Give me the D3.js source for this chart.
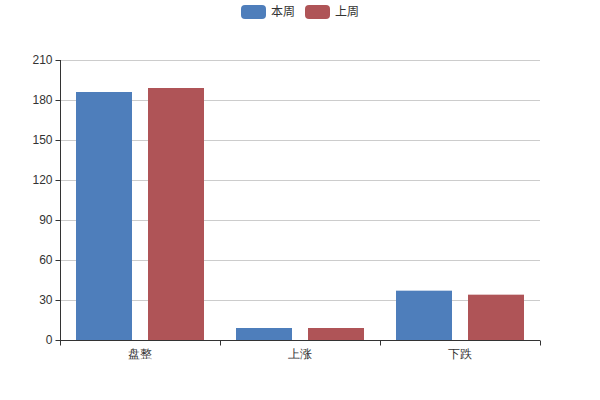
<!DOCTYPE html>
<html><head><meta charset="utf-8">
<script src="https://cdn.jsdelivr.net/npm/d3@7"></script>
<style>body{margin:0;background:#fff}svg{display:block;font-family:"Noto Sans CJK SC","Noto Sans",sans-serif}</style>
</head><body><svg id="c" width="600" height="400"></svg>
<script>
const categories = ["盘整", "上涨", "下跌"];
const seriesNames = ["本周", "上周"];
const thisWeek = [186, 9, 37];
const lastWeek = [189, 9, 34];
const yTicks = [0, 30, 60, 90, 120, 150, 180, 210];
const colors = ["#4e7ebb", "#af5457"];

const svg = d3.select("#c");
const m = {l: 60, r: 60, t: 60, b: 60};
const W = 600, H = 400;
const x = d3.scaleBand().domain(categories).range([m.l, W - m.r]).padding(0);
const x1 = d3.scaleBand().domain(seriesNames).range([0, x.bandwidth()]).paddingInner(2/9).paddingOuter(2/9);
const y = d3.scaleLinear().domain([0, 210]).range([H - m.b, m.t]);

// grid
svg.append("g").selectAll("line").data(yTicks.filter(d => d > 0)).join("line")
  .attr("x1", m.l).attr("x2", W - m.r)
  .attr("y1", d => Math.round(y(d)) + 0.5).attr("y2", d => Math.round(y(d)) + 0.5)
  .attr("stroke", "#ccc");

// bars
const data = categories.map((c, i) => ({c, vals: [thisWeek[i], lastWeek[i]]}));
const g = svg.append("g");
data.forEach(d => {
  d.vals.forEach((v, j) => {
    g.append("rect")
      .attr("x", x(d.c) + x1(seriesNames[j]))
      .attr("y", y(v))
      .attr("width", x1.bandwidth())
      .attr("height", y(0) - y(v))
      .attr("fill", colors[j]);
  });
});

// y axis
const ya = svg.append("g").attr("transform", `translate(${m.l + 0.5},0)`)
  .call(d3.axisLeft(y).tickValues(yTicks).tickSize(5).tickPadding(3));
ya.select(".domain").attr("stroke", "#333").attr("d", `M0,${m.t}V${H - m.b}`);
ya.selectAll(".tick line").attr("stroke", "#333");
ya.selectAll(".tick text").attr("fill", "#333").style("font-size", "12px");

// x axis
const xa = svg.append("g").attr("transform", `translate(0,${H - m.b + 0.5})`)
  .call(d3.axisBottom(x).tickSize(0).tickPadding(9));
xa.select(".domain").attr("stroke", "#333").attr("d", `M${m.l},0H${W - m.r}`);
xa.selectAll(".tick text").attr("fill", "#333").style("font-size", "12px");
const bounds = [m.l].concat(categories.map(c => x(c) + x.bandwidth()));
xa.selectAll(".bt").data(bounds).join("line")
  .attr("x1", d => Math.round(d) + 0.5).attr("x2", d => Math.round(d) + 0.5)
  .attr("y1", 0).attr("y2", 5).attr("stroke", "#333");

// legend
const lg = svg.append("g");
const lx = [241, 305];
seriesNames.forEach((s, i) => {
  lg.append("rect").attr("x", lx[i]).attr("y", 5).attr("width", 25).attr("height", 14)
    .attr("rx", 4).attr("fill", colors[i]);
  lg.append("text").attr("x", lx[i] + 30).attr("y", 12).attr("dy", "0.35em")
    .attr("fill", "#333").style("font-size", "12px").text(s);
});
</script></body></html>
